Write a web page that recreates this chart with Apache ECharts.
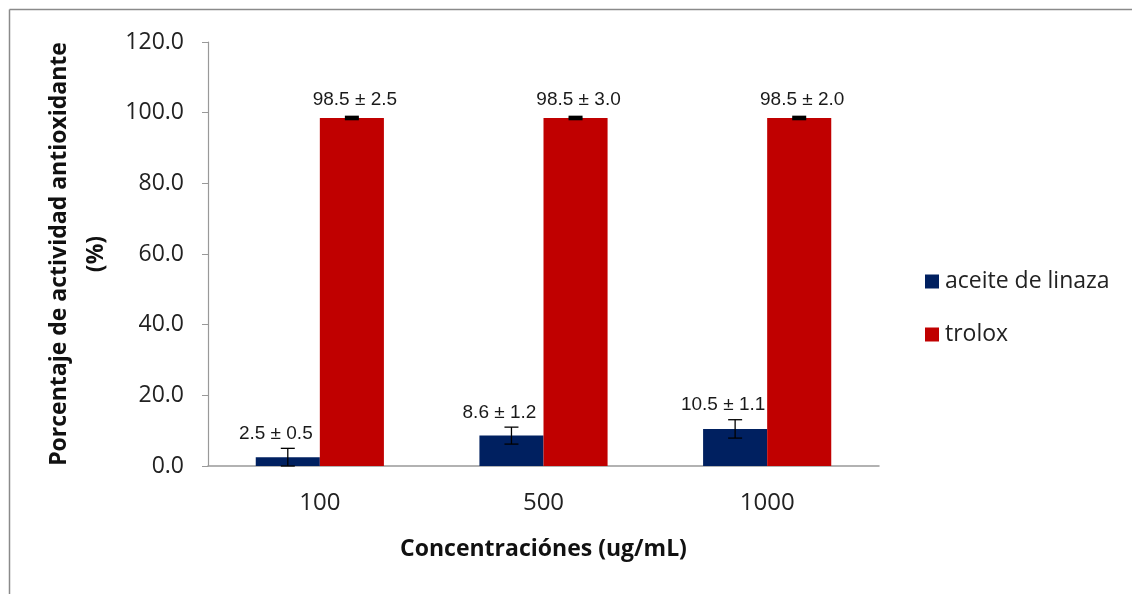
<!DOCTYPE html>
<html><head><meta charset="utf-8">
<script src="https://cdn.jsdelivr.net/npm/echarts@6/dist/echarts.min.js"></script>
<style>html,body{margin:0;padding:0;background:#fff}#c{width:1132px;height:594px}</style>
</head><body><div id="c"></div>
<script>
const categories = ['100', '500', '1000'];
const seriesNames = ['aceite de linaza', 'trolox'];
const linaza = [2.5, 8.6, 10.5];
const trolox = [98.5, 98.5, 98.5];
const linazaErr = [2.5, 2.4, 2.6];
const troloxErr = [0.3, 0.3, 0.3];
const linazaLabels = ['2.5 ± 0.5', '8.6 ± 1.2', '10.5 ± 1.1'];
const troloxLabels = ['98.5 ± 2.5', '98.5 ± 3.0', '98.5 ± 2.0'];
const yTicks = [0, 20, 40, 60, 80, 100, 120];

const FONT = '"Open Sans"';
const chart = echarts.init(document.getElementById('c'));

function errSeries(vals, errs, labels, idx, labelDx, labelGap) {
  return {
    type: 'custom',
    z: 10,
    data: vals.map((v, i) => [i, v, errs[i]]),
    renderItem: function (params, api) {
      const ci = api.value(0), v = api.value(1), e = api.value(2);
      const base = api.coord([ci, 0]);
      const bw = api.size([1, 0])[0];
      const barW = bw * (1 - 0.427) / 2;
      const cx = base[0] + (idx === 0 ? -barW / 2 : barW / 2);
      const top = api.coord([ci, v + e])[1];
      const bot = api.coord([ci, Math.max(0, v - e)])[1];
      const half = 7;
      const st = { stroke: '#000', lineWidth: idx === 1 ? 2.5 : 1.3 };
      return {
        type: 'group',
        children: [
          { type: 'line', shape: { x1: cx, y1: top, x2: cx, y2: bot }, style: st },
          { type: 'line', shape: { x1: cx - half, y1: top, x2: cx + half, y2: top }, style: st },
          { type: 'line', shape: { x1: cx - half, y1: bot, x2: cx + half, y2: bot }, style: st },
          { type: 'text', x: cx + labelDx, y: top - labelGap,
            style: { text: labels[params.dataIndex], fill: '#1a1a1a', font: '19px "Liberation Sans"',
                     align: 'center', verticalAlign: 'bottom' } }
        ]
      };
    }
  };
}

const option = {
  animation: false,
  backgroundColor: '#fff',
  graphic: [
    { type: 'line', shape: { x1: 9.5, y1: 9.5, x2: 1132, y2: 9.5 }, style: { stroke: '#8a8a8a', lineWidth: 1.5 } },
    { type: 'line', shape: { x1: 9.5, y1: 9.5, x2: 9.5, y2: 594 }, style: { stroke: '#8a8a8a', lineWidth: 1.5 } }
  ],
  grid: { left: 208, right: 253, top: 42, bottom: 128, containLabel: false },
  legend: {
    orient: 'vertical', left: 920, top: 265, itemWidth: 14, itemHeight: 14, itemGap: 30,
    icon: 'rect',
    textStyle: { fontFamily: FONT, fontSize: 23, color: '#222', padding: [0, 0, 0, 1] },
    data: seriesNames
  },
  xAxis: {
    type: 'category', data: categories,
    axisLine: { lineStyle: { color: '#999', width: 1.5 } },
    axisTick: { show: false },
    axisLabel: { fontFamily: FONT, fontSize: 24, color: '#222', margin: 25 },
    name: 'Concentraciónes (ug/mL)', nameLocation: 'middle', nameGap: 72,
    nameTextStyle: { fontFamily: FONT, fontSize: 23, fontWeight: 'bold', color: '#111' }
  },
  yAxis: {
    type: 'value', min: 0, max: 120, interval: 20,
    axisLine: { show: true, lineStyle: { color: '#999', width: 1.2 } },
    axisTick: { show: true, length: 6, lineStyle: { color: '#999' } },
    splitLine: { show: false },
    axisLabel: { fontFamily: FONT, fontSize: 23, color: '#222', margin: 24,
                 formatter: v => yTicks.includes(v) ? v.toFixed(1) : '' },
    name: 'Porcentaje de actividad antioxidante\n(%)', nameLocation: 'middle', nameGap: 90,
    nameTextStyle: { fontFamily: FONT, fontSize: 23, fontWeight: 'bold', color: '#111', lineHeight: 37 }
  },
  series: [
    { name: seriesNames[0], type: 'bar', data: linaza, barGap: '0%', barCategoryGap: '42.7%',
      itemStyle: { color: '#002060' } },
    { name: seriesNames[1], type: 'bar', data: trolox, barGap: '0%', barCategoryGap: '42.7%',
      itemStyle: { color: '#C00000' } },
    errSeries(linaza, linazaErr, linazaLabels, 0, -12, 5),
    errSeries(trolox, troloxErr, troloxLabels, 1, 3, 8)
  ]
};
chart.setOption(option);
</script>
</body></html>
